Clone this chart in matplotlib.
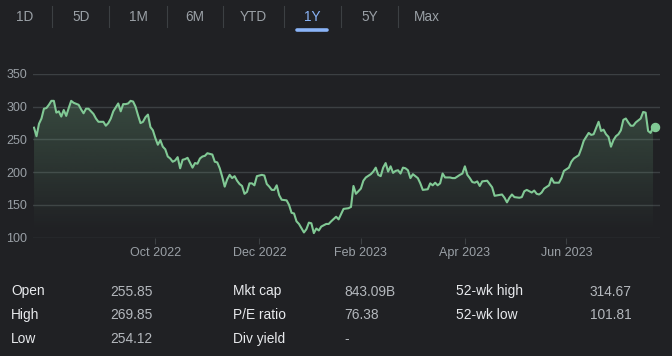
import matplotlib
matplotlib.use("Agg")
import matplotlib.pyplot as plt
import numpy as np
import pandas as pd
from matplotlib.lines import Line2D

plt.rcParams['font.family'] = ['Liberation Sans', 'DejaVu Sans']

# ---------------- data ----------------
start_date = "2022-07-25"
end_date = "2023-07-24"
market_holidays = ["2022-09-05", "2022-11-24", "2022-12-26", "2023-01-02", "2023-01-16",
                   "2023-02-20", "2023-04-07", "2023-05-29", "2023-06-19", "2023-07-04"]

# trading session number (0 = first session of the range) and closing price
sessions = [0, 1, 2, 3, 4, 5, 6, 7, 8, 9, 10, 11, 12, 13, 14, 15, 16, 18, 19, 20, 21, 22, 24, 25, 26,
            28, 29, 30, 31, 32, 34, 35, 36, 37, 38, 39, 40, 41, 42, 43, 44, 45, 46, 47, 48, 49, 50,
            51, 52, 53, 54, 55, 56, 57, 58, 59, 60, 61, 62, 64, 65, 66, 67, 68, 69, 70, 71, 72, 73,
            74, 75, 76, 77, 78, 79, 80, 81, 82, 83, 84, 85, 86, 87, 88, 89, 90, 92, 93, 94, 95, 96,
            97, 98, 99, 100, 102, 103, 104, 105, 106, 107, 109, 110, 111, 112, 113, 114, 115, 116,
            118, 119, 120, 122, 123, 125, 127, 128, 129, 130, 132, 133, 134, 136, 137, 138, 139, 140,
            141, 142, 143, 144, 145, 146, 147, 148, 149, 150, 151, 152, 153, 155, 156, 157, 159, 160,
            161, 162, 163, 164, 165, 166, 168, 169, 170, 172, 173, 174, 175, 176, 177, 178, 179, 180,
            181, 183, 184, 185, 186, 189, 190, 191, 192, 193, 194, 196, 197, 198, 199, 201, 202, 203,
            204, 205, 206, 208, 209, 210, 212, 213, 214, 216, 217, 218, 220, 221, 222, 224, 225, 226,
            228, 229, 230, 231, 232, 233, 234, 235, 236, 237, 238, 239, 240, 241, 242, 243, 245, 246,
            247, 248, 249, 250]
prices = [268, 255, 274, 282, 297, 298, 303, 309, 309, 291, 293, 285, 295, 286, 298, 309, 306, 303,
          296, 290, 297, 297, 289, 282, 277, 277, 271, 275, 282, 293, 305, 293, 304, 304, 305, 309,
          308, 300, 287, 275, 277, 284, 288, 269, 264, 252, 242, 249, 239, 235, 224, 221, 216, 218,
          223, 206, 219, 220, 222, 207, 214, 213, 221, 224, 225, 229, 228, 227, 216, 215, 206, 193,
          178, 189, 196, 191, 194, 187, 182, 179, 167, 170, 183, 183, 180, 194, 196, 195, 182, 178,
          173, 173, 180, 165, 158, 157, 150, 138, 137, 125, 121, 108, 113, 123, 122, 107, 114, 111,
          117, 121, 121, 125, 132, 128, 144, 145, 147, 179, 167, 175, 187, 192, 197, 201, 207, 196,
          194, 207, 214, 201, 209, 199, 202, 203, 198, 207, 206, 203, 191, 197, 191, 183, 173, 174,
          183, 180, 184, 180, 183, 198, 192, 192, 191, 191, 196, 198, 209, 196, 191, 185, 184, 186,
          179, 186, 187, 182, 177, 164, 166, 161, 154, 161, 166, 162, 161, 162, 171, 173, 169, 172,
          167, 166, 169, 175, 180, 191, 184, 184, 191, 202, 207, 216, 221, 226, 236, 248, 260, 257,
          258, 277, 263, 265, 258, 254, 239, 249, 255, 258, 264, 280, 282, 276, 271, 271, 276, 282,
          292, 291, 263, 260, 269]
last_price = 269.06

y_ticks = [100, 150, 200, 250, 300, 350]
month_ticks = ["2022-10", "2022-12", "2023-02", "2023-04", "2023-06"]
month_labels = ["Oct 2022", "Dec 2022", "Feb 2023", "Apr 2023", "Jun 2023"]

tabs = ["1D", "5D", "1M", "6M", "YTD", "1Y", "5Y", "Max"]
selected_tab = "1Y"

stat_labels_1 = ["Open", "High", "Low"]
stat_values_1 = ["255.85", "269.85", "254.12"]
stat_labels_2 = ["Mkt cap", "P/E ratio", "Div yield"]
stat_values_2 = ["843.09B", "76.38", "-"]
stat_labels_3 = ["52-wk high", "52-wk low"]
stat_values_3 = ["314.67", "101.81"]

# ---------------- style ----------------
BG = "#202124"
LINE = "#81c995"
GRID = "#3c4043"
MUTED = "#9aa0a6"
BLUE = "#8ab4f8"
LABEL = "#e8eaed"
VALUE = "#b4b8bd"

W, H = 672, 356
fig = plt.figure(figsize=(W / 100, H / 100), dpi=100, facecolor=BG)


def fx(px):
    return px / W


def fy(py):
    return 1 - py / H


# ---------------- tabs ----------------
tab_x = [25, 81, 138, 195, 253, 312, 370, 427]
for name, x in zip(tabs, tab_x):
    fig.text(fx(x), fy(17), name, ha="center", va="center", fontsize=9.8,
             color=BLUE if name == selected_tab else MUTED)
for sx in [52, 109, 167, 223, 284, 341, 398]:
    fig.add_artist(Line2D([fx(sx), fx(sx)], [fy(6), fy(27)], color=GRID, lw=0.8))
sel_x = tab_x[tabs.index(selected_tab)]
fig.add_artist(Line2D([fx(sel_x - 15), fx(sel_x + 15)], [fy(30), fy(30)], color=BLUE,
                      lw=2.6, solid_capstyle="round"))

# ---------------- chart ----------------
cal = pd.bdate_range(start_date, end_date)
cal = cal[~cal.isin(pd.to_datetime(market_holidays))]

ax_left, ax_right, ax_top, ax_bot = 33.3, 660, 74, 237.7
ax = fig.add_axes([fx(ax_left), fy(ax_bot), fx(ax_right - ax_left), (ax_bot - ax_top) / H])
ax.set_facecolor(BG)

x = np.array(sessions, dtype=float)
y = np.array(prices, dtype=float)
ymin, ymax = y_ticks[0], y_ticks[-1]

# gradient fill under the line
poly = ax.fill_between(x, y, ymin, color="none", lw=0)
rgb = matplotlib.colors.to_rgb(LINE)
vals = np.linspace(ymin, ymax, 300)
alpha = np.clip((vals - 110) / 200 * 0.24, 0, 0.3)
grad = np.zeros((300, 1, 4))
grad[:, 0, :3] = rgb
grad[:, 0, 3] = alpha
im = ax.imshow(grad, extent=[x[0], x[-1], ymin, ymax], origin="lower", aspect="auto",
               zorder=1, interpolation="bilinear")
im.set_clip_path(poly.get_paths()[0], transform=ax.transData)

ax.plot(x, y, color=LINE, lw=1.5, zorder=3, solid_joinstyle="round")
ax.plot([x[-1] + 0.8], [last_price], "o", color=LINE, ms=5.8, zorder=4, clip_on=False)

ax.set_xlim(-0.3, len(cal) - 1 + 2.8)
ax.set_ylim(ymin, ymax)

for s in ax.spines.values():
    s.set_visible(False)
ax.set_yticks(y_ticks)
ax.yaxis.grid(True, color=GRID, lw=1.0)
ax.set_axisbelow(True)
ax.tick_params(axis="y", length=0, pad=4.5, labelsize=9, labelcolor=MUTED)

tick_pos = [int(np.argmax(cal >= pd.Timestamp(m + "-01"))) for m in month_ticks]
ax.set_xticks(tick_pos)
ax.set_xticklabels(month_labels)
ax.tick_params(axis="x", length=4, width=0.8, color=GRID, pad=2.5, labelsize=9,
               labelcolor=MUTED)

# ---------------- stats table ----------------
row_y = [291.5, 315, 339]
cols = [(11, 110, stat_labels_1, stat_values_1),
        (233, 344, stat_labels_2, stat_values_2),
        (456, 590, stat_labels_3, stat_values_3)]
for lx, vx, labs, vals_ in cols:
    for ry, lab, val in zip(row_y, labs, vals_):
        fig.text(fx(lx), fy(ry), lab, ha="left", va="center", fontsize=9.9, color=LABEL)
        fig.text(fx(vx), fy(ry), val, ha="left", va="center", fontsize=9.9, color=VALUE)

fig.savefig("out.png", dpi=100, facecolor=BG)
